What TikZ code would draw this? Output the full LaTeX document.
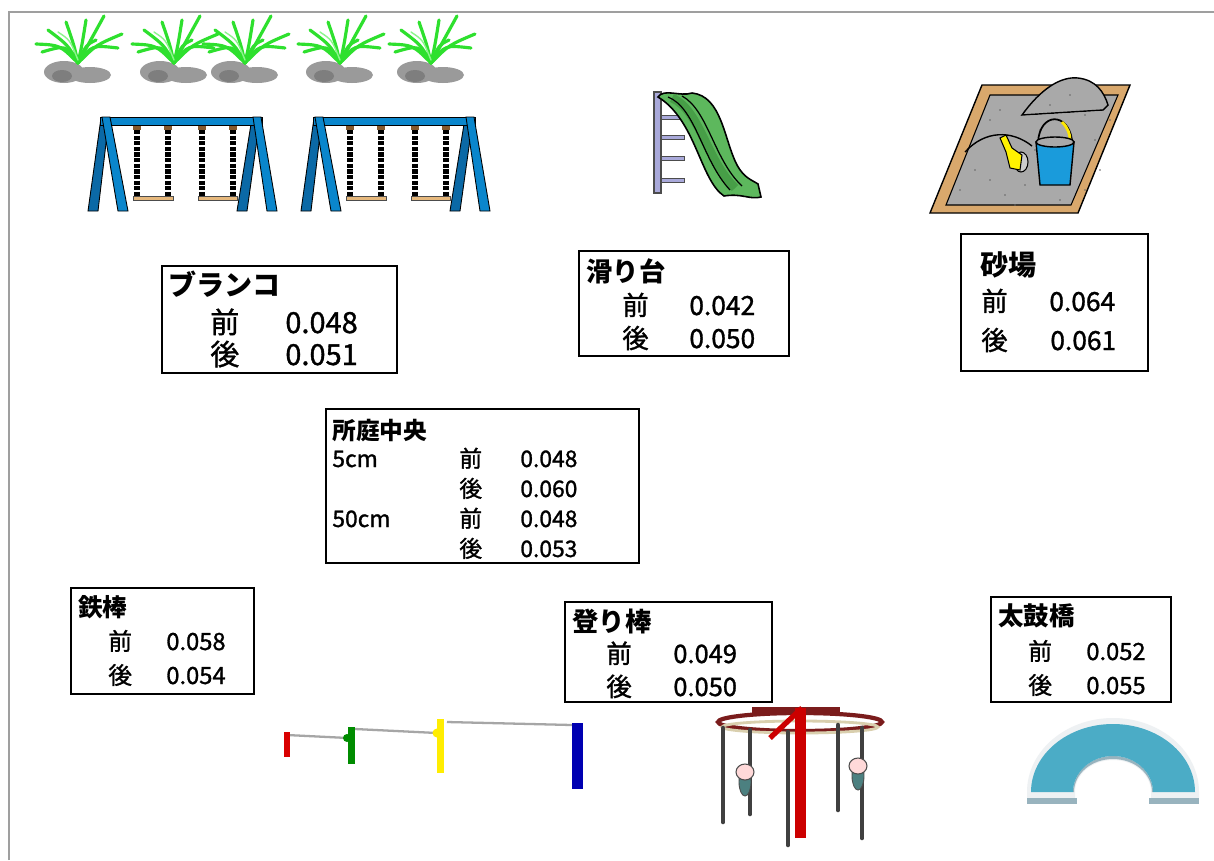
\documentclass[tikz,border=0pt]{standalone}
\usepackage{fontspec}
\setmainfont{Noto Sans CJK JP}[UprightFeatures={FakeBold=1.2}]
\usepackage{tikz}
\newcommand{\fsz}[1]{\fontsize{#1pt}{#1pt}\selectfont}
\definecolor{swblue}{HTML}{0A86CC}
\definecolor{swdark}{HTML}{0B69A6}
\definecolor{seat}{HTML}{E6B87C}
\definecolor{grass}{HTML}{2EE02E}
\definecolor{grasslt}{HTML}{8CF58C}
\definecolor{rock}{HTML}{9A9A9A}
\definecolor{rockdk}{HTML}{7E7E7E}
\definecolor{chute}{HTML}{5DB85D}
\definecolor{chutedk}{HTML}{479E47}
\definecolor{ladder}{HTML}{A9A9DA}
\definecolor{wood}{HTML}{D9A86C}
\definecolor{sand}{HTML}{A9A9A9}
\definecolor{bucket}{HTML}{1A9BDB}
\definecolor{archblue}{HTML}{4BACC6}
\definecolor{archlt}{HTML}{EEF1F3}
\definecolor{archdk}{HTML}{98B3BE}
\definecolor{ringred}{HTML}{7A1C1C}
\definecolor{ringlt}{HTML}{D9CFAE}

\begin{document}
\begin{tikzpicture}
    [
    x=0.02cm, y=-0.02cm,
    boxline/.style={draw=black,line width=1.2pt},
    title/.style={anchor=base west,inner sep=0pt,font=\bfseries},
    lbl/.style={anchor=base west,inner sep=0pt},
    blade/.style={draw=grass,line width=1.8pt,line cap=round},
    pole/.style={draw=black!75,line width=2.6pt,line cap=round}
    ]
\useasboundingbox (0,0) rectangle (1214,860);
\fill[white] (0,0) rectangle (1214,860);
\draw[gray!75,line width=1.1pt] (9,860) -- (9,12) -- (1214,12);

% grass and rocks
\foreach \cx in {78,174,245,340,431}{
  \fill[rock] (\cx-14,72) ellipse (20 and 11);
  \fill[rock] (\cx+12,75) ellipse (21 and 8);
  \fill[rockdk] (\cx-16,76) ellipse (10 and 6);
  \foreach \tx/\ty/\bx in {-42/44/-18,-30/30/-10,-12/22/-4,8/20/4,26/16/10,44/34/18,40/48/14,-36/52/-12,18/40/8}
    \draw[blade] (\cx,63) .. controls (\cx+\bx,45) .. (\cx+\tx,\ty);
  \draw[grasslt,line width=0.8pt,line cap=round] (\cx,60) .. controls (\cx-8,40) .. (\cx-20,32);
}

% swings
\foreach \ox in {0,213}{
  \foreach \chx in {137,168,202,233}{
    \fill[brown!70!black] (\chx+\ox-4,125) rectangle (\chx+\ox+4,130);
    \draw[black,line width=3.2pt,dash pattern=on 2.4pt off 0.8pt] (\chx+\ox,130) -- (\chx+\ox,196);
  }
  \filldraw[fill=seat,draw=black!70,line width=0.5pt] (133+\ox,196) rectangle (173+\ox,200);
  \filldraw[fill=seat,draw=black!70,line width=0.5pt] (198+\ox,196) rectangle (237+\ox,200);
  \filldraw[fill=swdark,draw=black,line width=0.5pt] (101+\ox,118) -- (109+\ox,118) -- (98+\ox,211) -- (88+\ox,211) -- cycle;
  \filldraw[fill=swdark,draw=black,line width=0.5pt] (252+\ox,118) -- (260+\ox,118) -- (247+\ox,211) -- (237+\ox,211) -- cycle;
  \filldraw[fill=swblue,draw=black,line width=0.5pt] (100+\ox,117) rectangle (262+\ox,125);
  \filldraw[fill=swblue,draw=black,line width=0.5pt] (102+\ox,117) -- (110+\ox,117) -- (128+\ox,211) -- (118+\ox,211) -- cycle;
  \filldraw[fill=swblue,draw=black,line width=0.5pt] (253+\ox,117) -- (261+\ox,117) -- (277+\ox,211) -- (267+\ox,211) -- cycle;
}

% slide
\foreach \ry in {117,137,158,180}
  \filldraw[fill=ladder,draw=black!70,line width=0.4pt] (660,\ry-2) rectangle (684,\ry+2);
\filldraw[fill=ladder,draw=black!70,line width=0.6pt] (654,92) rectangle (661,193);
\filldraw[fill=chute,draw=black,line width=0.9pt]
  (658,97) .. controls (664,88) and (680,97) .. (692,93)
  .. controls (722,96) and (724,140) .. (737,165)
  .. controls (744,178) and (752,180) .. (758,184) -- (761,197)
  .. controls (750,200) and (742,193) .. (724,196)
  .. controls (700,180) and (696,120) .. cycle;
\draw[chutedk,line width=5pt] (672,98) .. controls (700,110) and (706,160) .. (735,188);
\draw[black,line width=0.7pt] (668,97) .. controls (696,108) and (702,160) .. (730,190);
\draw[black,line width=0.7pt] (682,96) .. controls (708,110) and (714,160) .. (742,186);

% sandbox
\filldraw[fill=wood,draw=black,line width=0.8pt] (930,213) -- (982,85) -- (1130,85) -- (1078,213) -- cycle;
\filldraw[fill=sand,draw=black,line width=0.6pt] (946,205) -- (990,95) -- (1118,95) -- (1071,205) -- cycle;
\filldraw[fill=sand,draw=black,line width=0.8pt] (1022,115) .. controls (1040,90) and (1060,76) .. (1078,78) .. controls (1096,80) and (1104,92) .. (1108,105) -- (1103,110) -- cycle;
\fill[sand] (1023,116) -- (1103,111) -- (1100,125) -- (1030,125) -- cycle;
\draw[black,line width=0.8pt] (965,152) .. controls (985,130) and (1012,130) .. (1032,146);
\foreach \dx/\dy in {960/190,975/170,990/120,1000/110,1005/195,1025/185,1035/150,1050/105,1070/95,1085/115,1095/140,1100/170,1085/190,990/180,1015/205,1060/200,1110/120,1040/130}
  \fill[black!60] (\dx,\dy) circle (0.9);
\filldraw[fill=black!20,draw=black,line width=0.6pt] (1021,162) ellipse (7 and 10);
\filldraw[fill=yellow,draw=black,line width=0.6pt] (1000,138) -- (1006,135) -- (1012,148) -- (1022,155) -- (1020,170) -- (1010,168) -- (1006,152) -- cycle;
\draw[black,line width=1pt] (1038,142) .. controls (1040,112) and (1068,112) .. (1072,140);
\draw[yellow!90!orange,line width=1.6pt] (1062,122) .. controls (1068,128) and (1070,134) .. (1070,140);
\filldraw[fill=bucket,draw=black,line width=0.8pt] (1036,142) -- (1074,142) -- (1070,185) -- (1040,185) -- cycle;
\filldraw[fill=sand,draw=black,line width=0.8pt] (1055,142) ellipse (19 and 5);

% horizontal bars
\draw[gray!70,line width=1.3pt] (287,735) -- (348,738);
\draw[gray!70,line width=1.3pt] (355,729) -- (437,733);
\draw[gray!70,line width=1.3pt] (447,722) -- (572,725);
\fill[red!85!black] (284,732) rectangle (290,757);
\fill[green!55!black] (348,727) rectangle (355,764);
\fill[green!55!black] (347,738) circle (4);
\fill[yellow!95!orange] (437,719) rectangle (444,773);
\fill[yellow!95!orange] (437,733) circle (4.5);
\fill[blue!70!black] (572,723) rectangle (583,789);

% climbing poles
\draw[ringred,line width=2.4pt] (800,722) ellipse (82 and 9);
\draw[ringlt,line width=1.6pt] (800,727) ellipse (78 and 6);
\draw[ringred,line width=3pt] (752,710) -- (840,710);
\foreach \px/\pa/\pb in {723/728/822,750/730/814,788/732/845,838/725/810,862/728/838}
  \draw[pole] (\px,\pa) -- (\px,\pb);
\fill[red!80!black] (795,708) rectangle (806,838);
\draw[red!80!black,line width=3pt] (770,738) -- (802,708);
\foreach \hx/\hy in {745/772,858/766}{
  \filldraw[fill=teal!40!gray,draw=black!70,line width=0.5pt] (\hx,\hy+10) ellipse (6 and 14);
  \filldraw[fill=red!15,draw=black!70,line width=0.6pt] (\hx,\hy) ellipse (9 and 8);
}

% arch bridge
\fill[archlt] (1027,798) -- (1027,792) arc[start angle=180,end angle=360,x radius=86,y radius=74] -- (1199,798) -- (1151,798) -- (1151,792) arc[start angle=360,end angle=180,x radius=38,y radius=32] -- (1075,798) -- cycle;
\fill[archdk] (1027,798) rectangle (1077,804);
\fill[archdk] (1149,798) rectangle (1199,804);
\fill[archdk] (1073,792) arc[start angle=180,end angle=360,x radius=40,y radius=36] -- (1152,792) arc[start angle=360,end angle=180,x radius=39,y radius=33] -- cycle;
\fill[archblue] (1031,792) arc[start angle=180,end angle=360,x radius=82,y radius=68] -- (1153,792) arc[start angle=360,end angle=180,x radius=40,y radius=36] -- cycle;

% boxes
\draw[boxline] (162,266) rectangle (397,373);
\node[title,font=\bfseries\fsz{16}] (sw-t) at (168,295) {ブランコ};
\node[lbl,font=\fsz{16.5}] (sw-a) at (210,333) {前};
\node[lbl,font=\fsz{16.5}] (sw-av) at (285,333) {0.048};
\node[lbl,font=\fsz{16.5}] (sw-b) at (210,365) {後};
\node[lbl,font=\fsz{16.5}] (sw-bv) at (285,365) {0.051};

\draw[boxline] (579,251) rectangle (789,356);
\node[title,font=\bfseries\fsz{15}] (sl-t) at (586,281) {滑り台};
\node[lbl,font=\fsz{15}] (sl-a) at (622,315) {前};
\node[lbl,font=\fsz{15}] (sl-av) at (689,315) {0.042};
\node[lbl,font=\fsz{15}] (sl-b) at (622,348) {後};
\node[lbl,font=\fsz{15}] (sl-bv) at (689,348) {0.050};

\draw[boxline] (961,234) rectangle (1148,371);
\node[title,font=\bfseries\fsz{16}] (sb-t) at (980,275) {砂場};
\node[lbl,font=\fsz{15}] (sb-a) at (981,311) {前};
\node[lbl,font=\fsz{15}] (sb-av) at (1049,311) {0.064};
\node[lbl,font=\fsz{15}] (sb-b) at (981,350) {後};
\node[lbl,font=\fsz{15}] (sb-bv) at (1050,350) {0.061};

\draw[boxline] (326,409) rectangle (639,563);
\node[title,font=\bfseries\fsz{13.5}] (ct-t) at (332,439) {所庭中央};
\node[lbl,font=\fsz{13}] (ct-5) at (332,467) {5cm};
\node[lbl,font=\fsz{13}] (ct-5a) at (459,467) {前};
\node[lbl,font=\fsz{13}] (ct-5av) at (520,467) {0.048};
\node[lbl,font=\fsz{13}] (ct-5b) at (459,497) {後};
\node[lbl,font=\fsz{13}] (ct-5bv) at (520,497) {0.060};
\node[lbl,font=\fsz{13}] (ct-50) at (332,527) {50cm};
\node[lbl,font=\fsz{13}] (ct-50a) at (459,527) {前};
\node[lbl,font=\fsz{13}] (ct-50av) at (520,527) {0.048};
\node[lbl,font=\fsz{13}] (ct-50b) at (459,557) {後};
\node[lbl,font=\fsz{13}] (ct-50bv) at (520,557) {0.053};

\draw[boxline] (71,588) rectangle (254,694);
\node[title,font=\bfseries\fsz{14}] (hb-t) at (78,616) {鉄棒};
\node[lbl,font=\fsz{13.5}] (hb-a) at (108,650) {前};
\node[lbl,font=\fsz{13.5}] (hb-av) at (166,650) {0.058};
\node[lbl,font=\fsz{13.5}] (hb-b) at (108,684) {後};
\node[lbl,font=\fsz{13.5}] (hb-bv) at (166,684) {0.054};

\draw[boxline] (565,602) rectangle (772,702);
\node[title,font=\bfseries\fsz{15}] (cp-t) at (572,631) {登り棒};
\node[lbl,font=\fsz{14.5}] (cp-a) at (606,663) {前};
\node[lbl,font=\fsz{14.5}] (cp-av) at (673,663) {0.049};
\node[lbl,font=\fsz{14.5}] (cp-b) at (606,696) {後};
\node[lbl,font=\fsz{14.5}] (cp-bv) at (673,696) {0.050};

\draw[boxline] (991,597) rectangle (1171,702);
\node[title,font=\bfseries\fsz{14.5}] (ab-t) at (998,625) {太鼓橋};
\node[lbl,font=\fsz{13.5}] (ab-a) at (1028,660) {前};
\node[lbl,font=\fsz{13.5}] (ab-av) at (1086,660) {0.052};
\node[lbl,font=\fsz{13.5}] (ab-b) at (1028,694) {後};
\node[lbl,font=\fsz{13.5}] (ab-bv) at (1086,694) {0.055};
\end{tikzpicture}
\end{document}
